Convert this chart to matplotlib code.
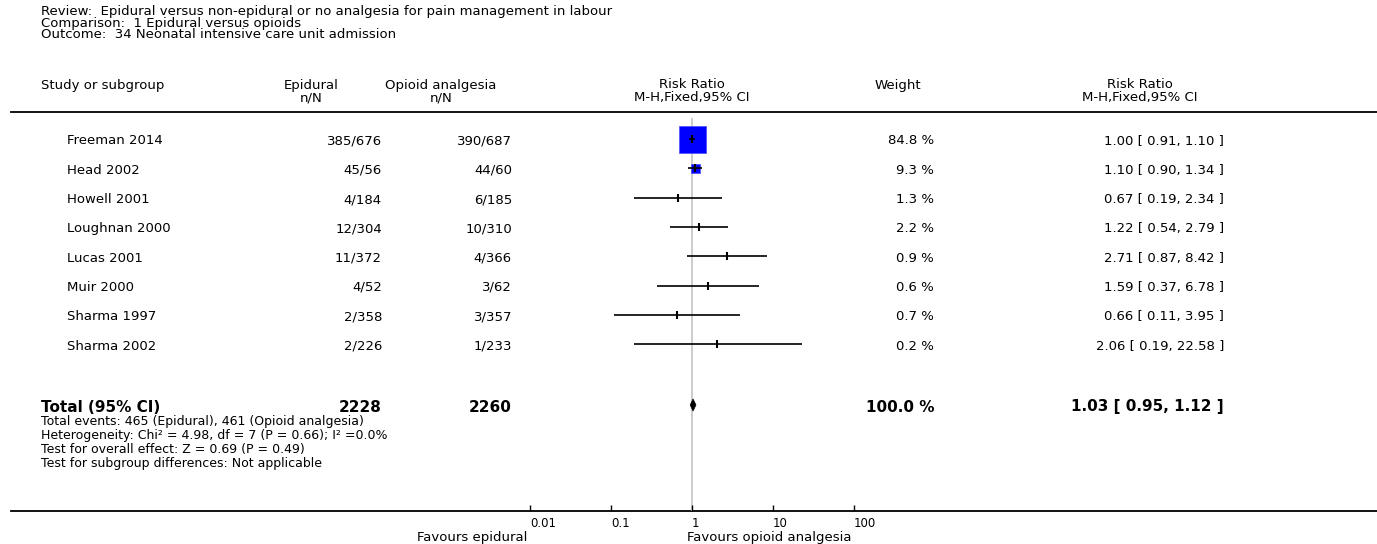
import numpy as np
import matplotlib
matplotlib.use("Agg")
import matplotlib.pyplot as plt
from matplotlib.ticker import NullLocator

plt.rcParams["font.family"] = ["DejaVu Sans"]

# --- data -------------------------------------------------------------------
studies = ["Freeman 2014", "Head 2002", "Howell 2001", "Loughnan 2000",
           "Lucas 2001", "Muir 2000", "Sharma 1997", "Sharma 2002"]
epi_events = [385, 45, 4, 12, 11, 4, 2, 2]
epi_total = [676, 56, 184, 304, 372, 52, 358, 226]
opi_events = [390, 44, 6, 10, 4, 3, 3, 1]
opi_total = [687, 60, 185, 310, 366, 62, 357, 233]
weights = [84.8, 9.3, 1.3, 2.2, 0.9, 0.6, 0.7, 0.2]
rr = [1.00, 1.10, 0.67, 1.22, 2.71, 1.59, 0.66, 2.06]
ci_low = [0.91, 0.90, 0.19, 0.54, 0.87, 0.37, 0.11, 0.19]
ci_high = [1.10, 1.34, 2.34, 2.79, 8.42, 6.78, 3.95, 22.58]

total_rr = 1.03
total_low = 0.95
total_high = 1.12
total_weight = 100.0

tick_values = [0.01, 0.1, 1, 10, 100]
tick_labels = ["0.01", "0.1", "1", "10", "100"]

header_lines = [
    "Review:  Epidural versus non-epidural or no analgesia for pain management in labour",
    "Comparison:  1 Epidural versus opioids",
    "Outcome:  34 Neonatal intensive care unit admission",
]
footnotes = [
    "Heterogeneity: Chi\u00b2 = 4.98, df = 7 (P = 0.66); I\u00b2 =0.0%",
    "Test for overall effect: Z = 0.69 (P = 0.49)",
    "Test for subgroup differences: Not applicable",
]

# --- layout (pixels from top-left) -----------------------------------------
W, H = 1377, 544
FS = 9.5
ROW0, ROW_STEP = 139, 29.3
TEXT_DY = 2
TOTAL_Y = 405
AXIS_Y = 511
PLOT_TOP = 118
X_STUDY, X_LEFT = 67, 41
X_EPI, X_OPI, X_WEIGHT, X_RR = 382, 512, 934, 1224


def main():
    fig = plt.figure(figsize=(W / 100, H / 100), dpi=100)

    bg = fig.add_axes([0, 0, 1, 1])
    bg.set_xlim(0, W)
    bg.set_ylim(H, 0)
    bg.axis("off")

    # title block
    for i, line in enumerate(header_lines):
        bg.text(X_LEFT, 11 + 12 * i, line, fontsize=9.5, va="center")

    # column headings (two lines each)
    bg.text(X_LEFT, 85, "Study or subgroup", fontsize=FS, va="center")
    for x, top, bottom in [(311, "Epidural", "n/N"),
                           (441, "Opioid analgesia", "n/N"),
                           (692, "Risk Ratio", "M-H,Fixed,95% CI"),
                           (898, "Weight", ""),
                           (1140, "Risk Ratio", "M-H,Fixed,95% CI")]:
        bg.text(x, 85, top, fontsize=FS, va="center", ha="center")
        bg.text(x, 98, bottom, fontsize=FS, va="center", ha="center")

    bg.plot([11, W], [112, 112], color="black", lw=1.3)
    bg.plot([11, W], [AXIS_Y, AXIS_Y], color="black", lw=1.3)

    row_y = ROW0 + ROW_STEP * np.arange(len(studies))

    # per-study text columns
    for y, name, ee, et, oe, ot, w, r, lo, hi in zip(
            row_y + TEXT_DY, studies, epi_events, epi_total, opi_events,
            opi_total, weights, rr, ci_low, ci_high):
        bg.text(X_STUDY, y, name, fontsize=FS, va="center")
        bg.text(X_EPI, y, f"{ee}/{et}", fontsize=FS, va="center", ha="right")
        bg.text(X_OPI, y, f"{oe}/{ot}", fontsize=FS, va="center", ha="right")
        bg.text(X_WEIGHT, y, f"{w:.1f} %", fontsize=FS, va="center", ha="right")
        bg.text(X_RR, y, f"{r:.2f} [ {lo:.2f}, {hi:.2f} ]", fontsize=FS,
                va="center", ha="right")

    # pooled row
    ty = TOTAL_Y + TEXT_DY
    bold = dict(fontsize=11, fontweight="bold", va="center")
    bg.text(X_LEFT, ty, "Total (95% CI)", **bold)
    bg.text(X_EPI, ty, str(sum(epi_total)), ha="right", **bold)
    bg.text(X_OPI, ty, str(sum(opi_total)), ha="right", **bold)
    bg.text(X_WEIGHT, ty, f"{total_weight:.1f} %", ha="right", **bold)
    bg.text(X_RR, ty,
            f"{total_rr:.2f} [ {total_low:.2f}, {total_high:.2f} ]",
            ha="right", **bold)

    notes = [f"Total events: {sum(epi_events)} (Epidural), "
             f"{sum(opi_events)} (Opioid analgesia)"] + footnotes
    for i, line in enumerate(notes):
        bg.text(X_LEFT, 422 + 14 * i, line, fontsize=9, va="center")

    # forest panel: log x scale, y in the same pixel rows as the text
    ax = fig.add_axes([530 / W, (H - AXIS_Y) / H, 324 / W,
                       (AXIS_Y - PLOT_TOP) / H])
    ax.set_facecolor("none")
    ax.set_xscale("log")
    ax.set_xlim(tick_values[0], tick_values[-1])
    ax.set_ylim(AXIS_Y, PLOT_TOP)
    for s in ax.spines.values():
        s.set_visible(False)
    ax.xaxis.set_minor_locator(NullLocator())
    ax.set_xticks(tick_values, tick_labels)
    for lbl in ax.get_xticklabels():
        lbl.set_horizontalalignment("left")
    ax.tick_params(axis="x", direction="in", length=4, width=1,
                   pad=4, labelsize=8.5)
    ax.tick_params(axis="y", left=False, labelleft=False)

    ax.axvline(1, color="#c4c4c4", lw=1.2, zorder=0)

    # study boxes sized by weight; tiny ones sit hidden behind the tick
    side_px = 27 * np.sqrt(np.array(weights) / max(weights))
    show = side_px > 7
    ax.scatter(np.array(rr)[show], row_y[show], marker="s",
               s=(side_px[show] * 0.72) ** 2, color="#0000ff",
               edgecolors="#4a4aff", linewidths=0.5, zorder=2)
    ax.hlines(row_y, ci_low, ci_high, color="black", lw=1.2, zorder=3)
    ax.plot(rr, row_y, ls="none", marker="|", ms=5.5, mew=1.5,
            color="black", zorder=4)

    # pooled diamond
    ax.fill([total_low, total_rr, total_high, total_rr],
            [TOTAL_Y, TOTAL_Y - 6, TOTAL_Y, TOTAL_Y + 6],
            color="black", lw=0.5, zorder=3)

    bg.text(527, 537, "Favours epidural", fontsize=FS, va="center", ha="right")
    bg.text(687, 537, "Favours opioid analgesia", fontsize=FS, va="center",
            ha="left")

    fig.savefig("out.png", dpi=100)


if __name__ == "__main__":
    main()
